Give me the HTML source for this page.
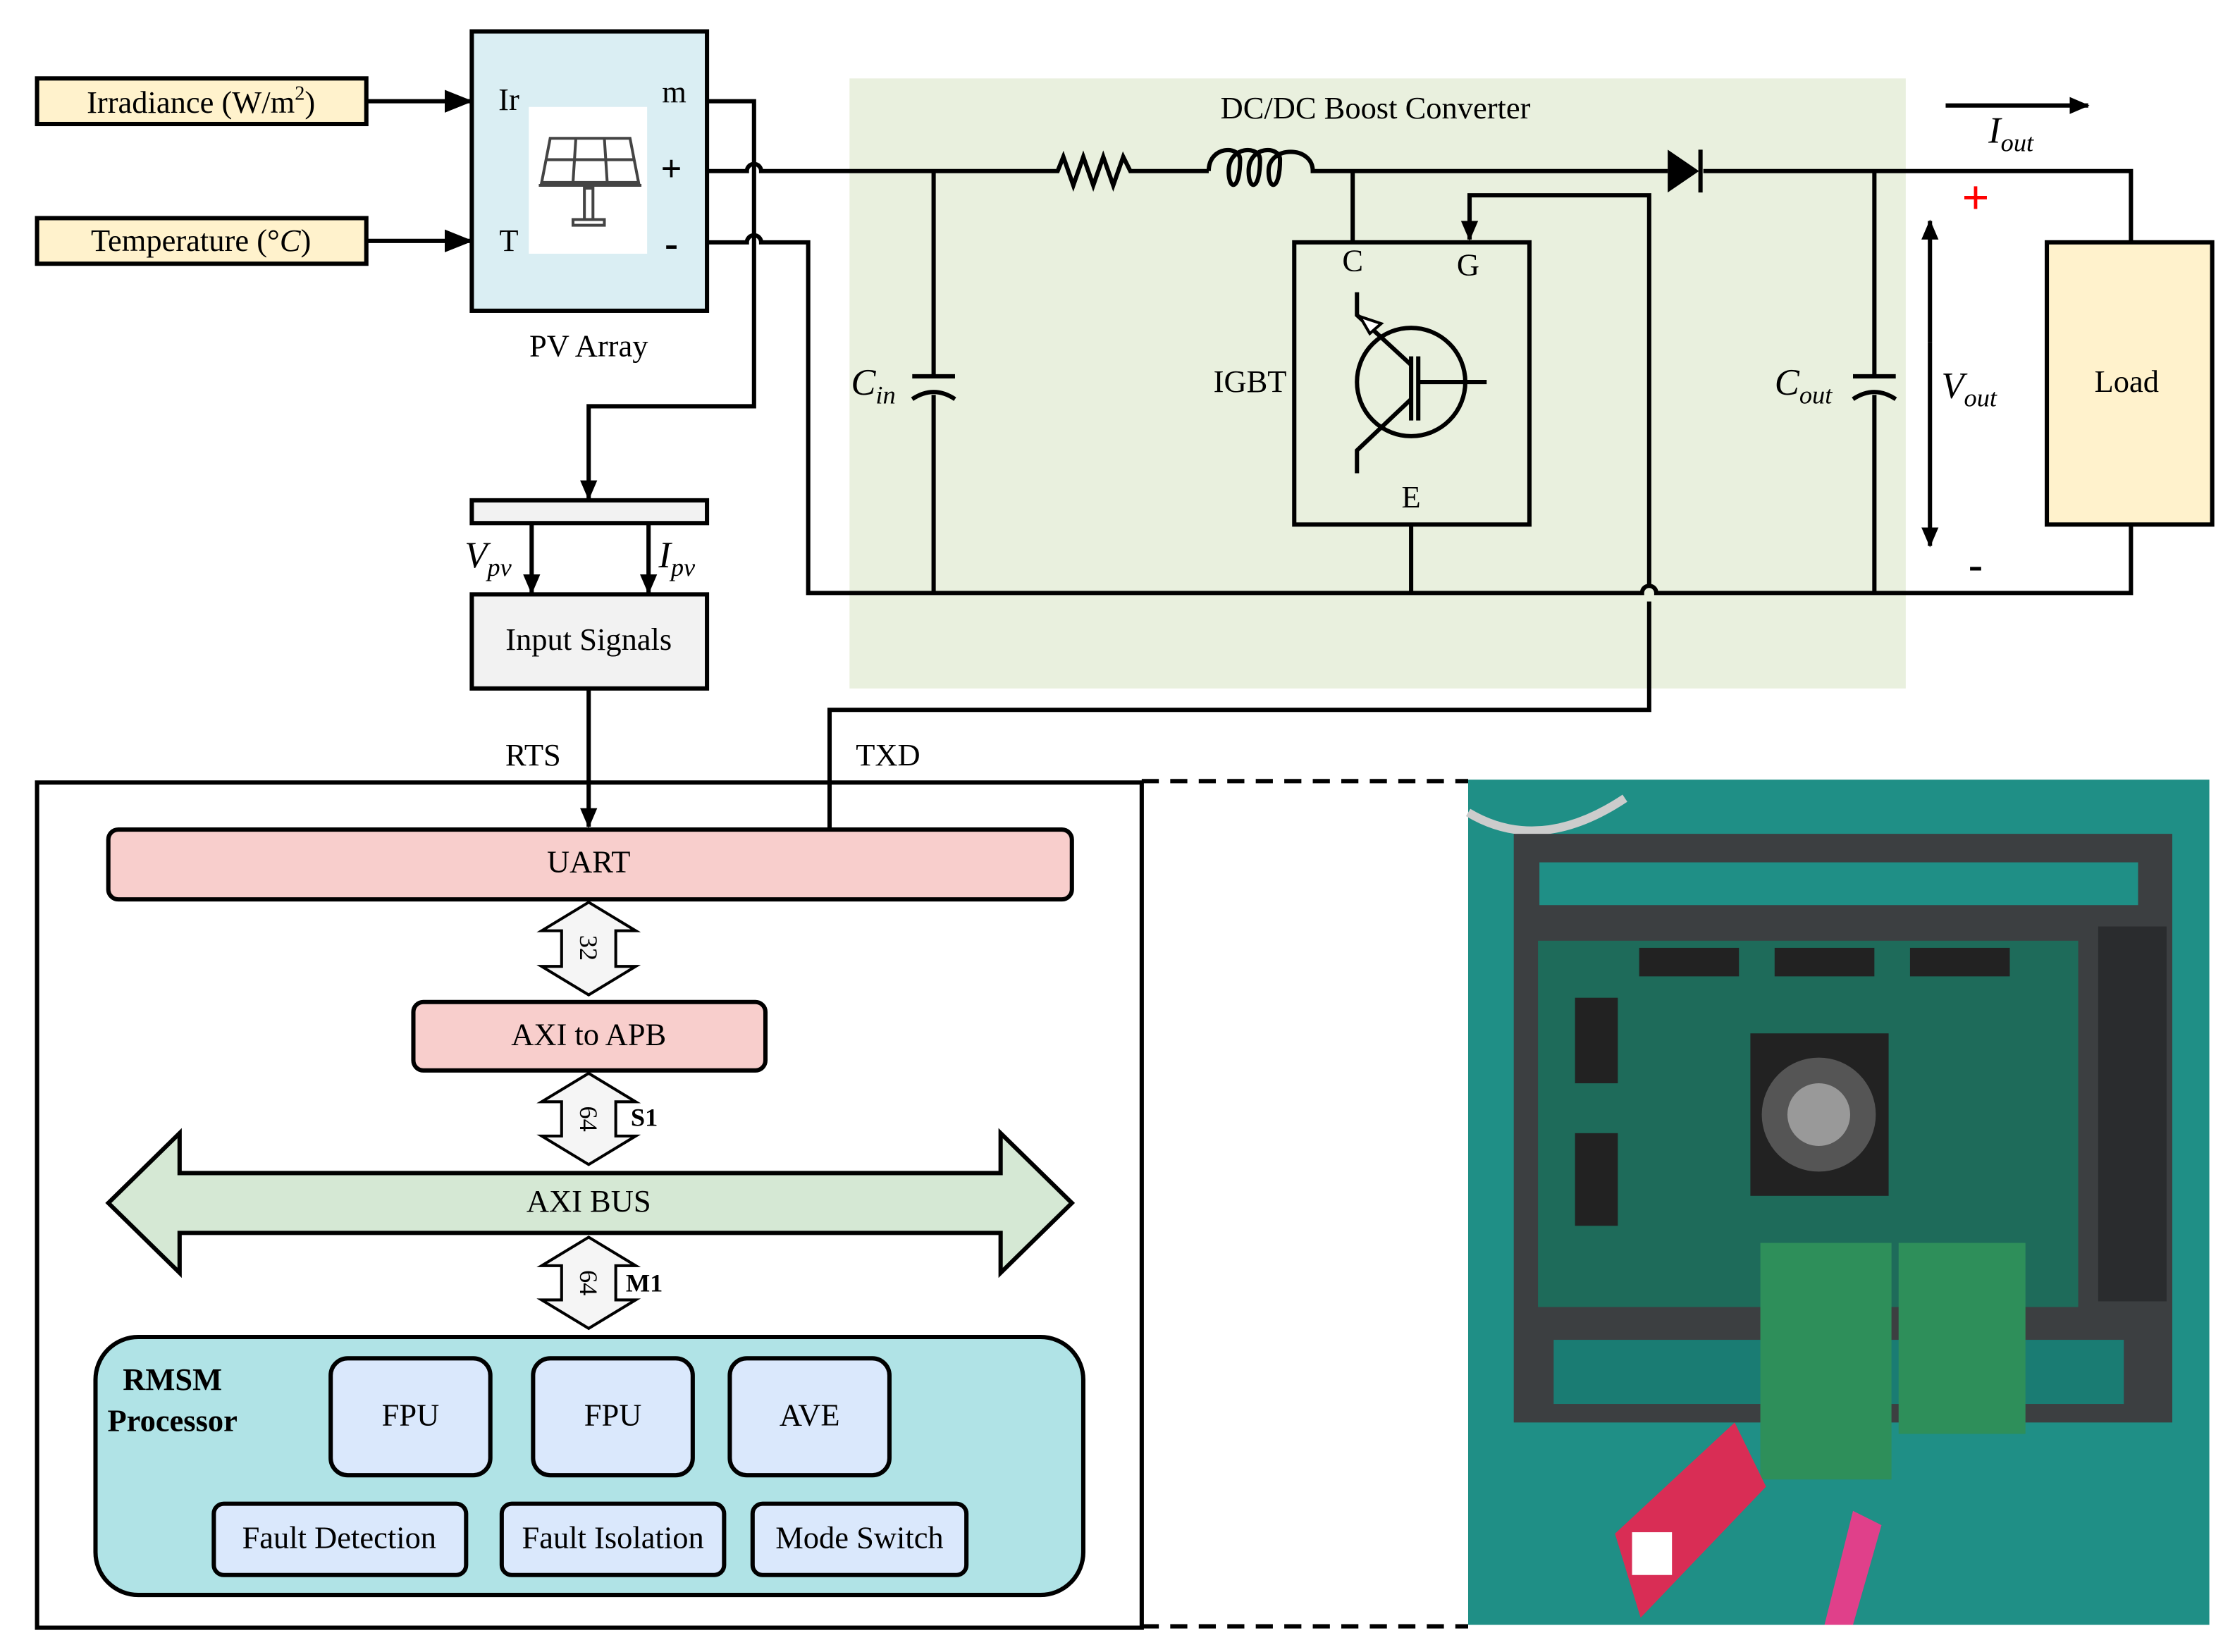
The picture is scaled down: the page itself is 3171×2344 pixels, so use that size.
<!DOCTYPE html>
<html><head><meta charset="utf-8"><style>
html,body{margin:0;padding:0;background:#fff;}
svg{display:block;}
text{font-family:"Liberation Serif",serif;fill:#000;}
.i{font-style:italic;}
</style></head><body>
<svg width="3171" height="2344" viewBox="0 0 1568 1159" xmlns="http://www.w3.org/2000/svg">
<defs>
<marker id="ahs" markerWidth="20" markerHeight="16" refX="18" refY="8" orient="auto" markerUnits="userSpaceOnUse"><path d="M0,0 L20,8 L0,16 Z" fill="#000"/></marker>
<marker id="ahm" markerWidth="14" markerHeight="14" refX="13" refY="7" orient="auto" markerUnits="userSpaceOnUse"><path d="M0,1 L14,7 L0,13 Z" fill="#000"/></marker>
</defs>
<rect x="596" y="55" width="741" height="428" fill="#e9f0de"/>
<g fill="none" stroke="#000" stroke-width="3">
<rect x="26" y="55" width="231" height="32" fill="#fff2cc"/>
<rect x="26" y="153" width="231" height="32" fill="#fff2cc"/>
<line x1="257" y1="71" x2="330" y2="71" marker-end="url(#ahs)"/>
<line x1="257" y1="169" x2="330" y2="169" marker-end="url(#ahs)"/>
<rect x="331" y="22" width="165" height="196" fill="#daeef3"/>
<path d="M496,71 H529 V285 H413 V350" marker-end="url(#ahm)"/>
<path d="M496,120 H524 A5,5 0 0 1 534,120 H742 L746,110 L753,130 L760,110 L767,130 L774,110 L781,130 L788,110 L793,120 H848"/>
<path d="M848,120 C848,102 870,102 870,112 C870,134 862,134 862,120 C862,102 884,102 884,112 C884,134 876,134 876,120 C876,102 898,102 898,112 C898,134 890,134 890,120 C890,102 921,102 921,120 H1170"/>
<path d="M1195,120 H1495 V170"/>
<path d="M496,170 H524 A5,5 0 0 1 534,170 H567 V416 H1152 A5,5 0 0 1 1162,416 H1495 V368"/>
<path d="M655,120 V264 M655,277 V416"/>
<path d="M640,264 H670"/>
<path d="M640,280 Q655,270 670,280"/>
<path d="M1315,120 V264 M1315,277 V416"/>
<path d="M1300,264 H1330"/>
<path d="M1300,280 Q1315,270 1330,280"/>
<rect x="908" y="170" width="165" height="198"/>
<path d="M949,120 V170"/>
<path d="M990,368 V416"/>
<path d="M1157,410 V137 H1031 V168" marker-end="url(#ahm)"/>
<path d="M1157,422 V498 H582 V582"/>
<circle cx="990" cy="268" r="38"/>
<path d="M990,250 V295 M995,250 V295 M995,268 H1043"/>
<path d="M952,205 V221 L990,256 M990,280 L952,316 V332"/>
<path d="M954,222 L961,234 L969,227 Z" fill="#fff" stroke-width="2"/>
<line x1="1354" y1="240" x2="1354" y2="155" marker-end="url(#ahm)"/>
<line x1="1354" y1="240" x2="1354" y2="383" marker-end="url(#ahm)"/>
<line x1="1365" y1="74" x2="1465" y2="74" marker-end="url(#ahm)"/>
<rect x="1436" y="170" width="116" height="198" fill="#fff2cc"/>
<rect x="331" y="351" width="165" height="16" fill="#f2f2f2"/>
<line x1="373" y1="367" x2="373" y2="416" marker-end="url(#ahm)"/>
<line x1="455" y1="367" x2="455" y2="416" marker-end="url(#ahm)"/>
<rect x="331" y="417" width="165" height="66" fill="#f2f2f2"/>
<line x1="413" y1="483" x2="413" y2="580" marker-end="url(#ahm)"/>
<rect x="26" y="549" width="775" height="593"/>
<path d="M801,548 H1030 M801,1141 H1030" stroke-dasharray="12,8"/>
<rect x="76" y="582" width="676" height="49" rx="7" fill="#f8cecc"/>
<rect x="290" y="703" width="247" height="48" rx="7" fill="#f8cecc"/>
<path d="M413,633 L446,653 H432 V678 H446 L413,698 L380,678 H394 V653 H380 Z" fill="#f5f5f5" stroke-width="2"/>
<path d="M413,753 L446,773 H432 V797 H446 L413,817 L380,797 H394 V773 H380 Z" fill="#f5f5f5" stroke-width="2"/>
<path d="M413,868 L446,888 H432 V912 H446 L413,932 L380,912 H394 V888 H380 Z" fill="#f5f5f5" stroke-width="2"/>
<path d="M76,844 L126,795 V823 H702 V795 L752,844 L702,893 V865 H126 V893 Z" fill="#d5e8d4"/>
<rect x="67" y="938" width="693" height="181" rx="30" fill="#b0e3e6"/>
<rect x="232" y="953" width="112" height="82" rx="12" fill="#dae8fc"/>
<rect x="374" y="953" width="112" height="82" rx="12" fill="#dae8fc"/>
<rect x="512" y="953" width="112" height="82" rx="12" fill="#dae8fc"/>
<rect x="150" y="1055" width="177" height="50" rx="7" fill="#dae8fc"/>
<rect x="352" y="1055" width="156" height="50" rx="7" fill="#dae8fc"/>
<rect x="528" y="1055" width="150" height="50" rx="7" fill="#dae8fc"/>
</g>
<path d="M1170,105 L1192,120 L1170,135 Z" fill="#000"/>
<line x1="1193" y1="105" x2="1193" y2="135" stroke="#000" stroke-width="3"/>
<rect x="371" y="75" width="83" height="103" fill="#fff"/>
<g stroke="#444" stroke-width="2" fill="none">
<path d="M386,97 H442 L448,128 H380 Z"/>
<path d="M383,112 H445 M404,97 L402,128 M424,97 L426,128"/>
<path d="M378,130 H450"/><rect x="410" y="132" width="6" height="22"/><rect x="402" y="154" width="22" height="4"/>
</g>
<g font-size="22" text-anchor="middle">
<text x="141" y="79">Irradiance (W/m<tspan font-size="14" dy="-9">2</tspan><tspan dy="9">)</tspan></text>
<text x="141" y="176">Temperature  (°<tspan class="i">C</tspan>)</text>
<text x="357" y="77">Ir</text>
<text x="357" y="176">T</text>
<text x="473" y="72">m</text>
<text x="471" y="127" font-size="26" font-family="Liberation Sans" font-weight="bold">+</text>
<text x="471" y="180" font-size="28" font-family="Liberation Sans" font-weight="bold">-</text>
<text x="413" y="250">PV Array</text>
<text x="965" y="83">DC/DC Boost Converter</text>
<text x="949" y="190">C</text>
<text x="1030" y="193">G</text>
<text x="990" y="356">E</text>
<text x="877" y="275">IGBT</text>
<text x="1492" y="275">Load</text>
<text x="413" y="456" fill="#333">Input Signals</text>
<text x="374" y="537">RTS</text>
<text x="623" y="537">TXD</text>
<text x="413" y="612">UART</text>
<text x="413" y="733">AXI to APB</text>
<text x="413" y="850">AXI BUS</text>
<text x="288" y="1000">FPU</text>
<text x="430" y="1000">FPU</text>
<text x="568" y="1000">AVE</text>
<text x="238" y="1086">Fault Detection</text>
<text x="430" y="1086">Fault Isolation</text>
<text x="603" y="1086">Mode Switch</text>
<text x="452" y="790" font-weight="bold" font-size="18">S1</text>
<text x="452" y="906" font-weight="bold" font-size="18">M1</text>
<text x="121" y="975" font-weight="bold">RMSM</text>
<text x="121" y="1004" font-weight="bold">Processor</text>
</g>
<g font-size="18">
<text transform="translate(407,665) rotate(90)" text-anchor="middle">32</text>
<text transform="translate(407,785) rotate(90)" text-anchor="middle">64</text>
<text transform="translate(407,900) rotate(90)" text-anchor="middle">64</text>
</g>
<g font-size="26">
<text x="597" y="277" class="i">C<tspan font-size="18" dy="6">in</tspan></text>
<text x="1245" y="277" class="i">C<tspan font-size="18" dy="6">out</tspan></text>
<text x="1362" y="279" class="i">V<tspan font-size="18" dy="6">out</tspan></text>
<text x="1395" y="100" class="i">I<tspan font-size="18" dy="6">out</tspan></text>
<text x="326" y="398" class="i">V<tspan font-size="18" dy="6">pv</tspan></text>
<text x="462" y="398" class="i">I<tspan font-size="18" dy="6">pv</tspan></text>
</g>
<text x="1386" y="150" font-size="34" text-anchor="middle" font-family="Liberation Sans" font-weight="bold" style="fill:#f00">+</text>
<text x="1386" y="406" font-size="30" text-anchor="middle" font-family="Liberation Sans" font-weight="bold">-</text>
<g>
<rect x="1030" y="547" width="520" height="593" fill="#1f8f86"/>
<path d="M1030,570 Q1080,600 1140,560" stroke="#ccc" stroke-width="6" fill="none"/>
<rect x="1062" y="585" width="462" height="413" fill="#3c3f41"/>
<rect x="1080" y="605" width="420" height="30" fill="#1f8f86"/>
<rect x="1090" y="940" width="400" height="45" fill="#1a7c73"/>
<rect x="1079" y="660" width="379" height="257" fill="#1e6b5a"/>
<rect x="1472" y="650" width="48" height="263" fill="#2a2c2e"/>
<rect x="1228" y="725" width="97" height="114" fill="#222"/>
<circle cx="1276" cy="782" r="40" fill="#555"/>
<circle cx="1276" cy="782" r="22" fill="#999"/>
<rect x="1105" y="700" width="30" height="60" fill="#222"/>
<rect x="1105" y="795" width="30" height="65" fill="#222"/>
<rect x="1150" y="665" width="70" height="20" fill="#222"/>
<rect x="1245" y="665" width="70" height="20" fill="#222"/>
<rect x="1340" y="665" width="70" height="20" fill="#222"/>
<rect x="1235" y="872" width="92" height="166" fill="#2e8f5a"/>
<rect x="1332" y="872" width="89" height="134" fill="#2e8f5a"/>
<path d="M1133,1076 L1217,998 L1239,1043 L1151,1135 Z" fill="#d92d55"/>
<rect x="1145" y="1075" width="28" height="30" fill="#fff"/>
<path d="M1280,1140 L1300,1060 L1320,1070 L1300,1140 Z" fill="#e0408a"/>
</g>
</svg>
</body></html>
